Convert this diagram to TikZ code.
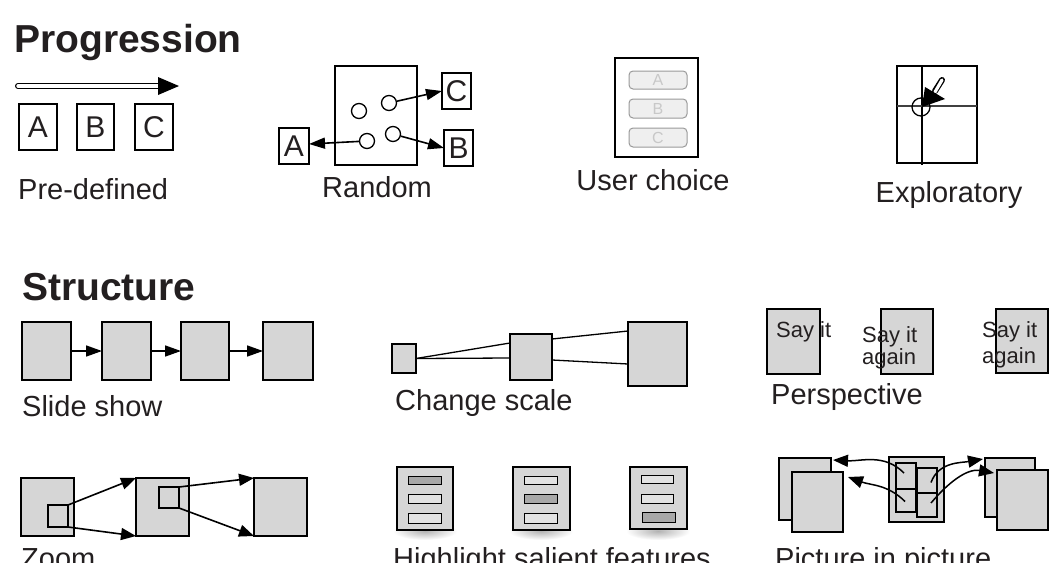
\documentclass[tikz,border=0pt]{standalone}
\usepackage{fontspec}
\setmainfont{Liberation Sans}
\usetikzlibrary{arrows.meta,calc}
\definecolor{ink}{HTML}{231F20}
\definecolor{fillg}{HTML}{D6D6D6}
\definecolor{btnfill}{HTML}{EFEFEF}
\definecolor{btndraw}{HTML}{9A9A9A}
\definecolor{btntext}{HTML}{C8C8C8}
\definecolor{barlight}{HTML}{E2E2E2}
\definecolor{bardark}{HTML}{A8A8A8}
\tikzset{
 box/.style={draw=black, line width=1.5pt, fill=fillg, inner sep=0pt, outer sep=0pt, anchor=north west},
 frame/.style={draw=black, line width=1.6pt, inner sep=0pt, outer sep=0pt, anchor=north west},
 wbox/.style={draw=black, line width=1.3pt, fill=white, inner sep=0pt, outer sep=0pt, anchor=north west, font=\fontsize{30}{30}\selectfont, text=ink},
 dot/.style={circle, draw=black, line width=1.3pt, fill=white, minimum size=15pt, inner sep=0pt},
 btn/.style={draw=btndraw, line width=1pt, fill=btnfill, rounded corners=4pt, inner sep=0pt, outer sep=0pt, anchor=north west, text=btntext, font=\fontsize{16}{16}\selectfont, minimum width=58pt},
 bar/.style={draw=black, line width=1pt, fill=barlight, inner sep=0pt, anchor=north west},
 hibar/.style={bar, fill=bardark},
 ibox/.style={draw=black, line width=2pt, fill=fillg, inner sep=0pt, outer sep=0pt, anchor=north west},
 lbl/.style={font=\fontsize{29}{34}\selectfont, text=ink, inner sep=0pt, anchor=base west},
 clbl/.style={lbl, anchor=base},
 ptxt/.style={font=\fontsize{22}{22}\selectfont, text=ink, inner sep=0pt, anchor=base west},
 heading/.style={font=\fontsize{39}{44}\selectfont\bfseries, text=ink, inner sep=0pt, anchor=base west},
 arr/.style={line width=1.6pt, -{Triangle[length=16pt,width=11pt]}},
 zarr/.style={line width=1.6pt, -{Triangle[length=15pt,width=12pt]}},
 carr/.style={line width=1.5pt, -{Triangle[length=15pt,width=12pt]}},
 thin/.style={line width=1.3pt},
}
\begin{document}
\begin{tikzpicture}[x=1pt,y=-1pt]
\clip (0,0) rectangle (1059,562);
\fill[white] (0,0) rectangle (1059,562);

% ---------- Progression ----------
\node[heading] (ptitle) at (14,52) {Progression};

% Pre-defined
\coordinate (pdS) at (18,86);
\coordinate (pdE) at (158,86);
\draw[line width=6pt, line cap=round] (pdS) -- (pdE);
\draw[line width=3.4pt, white, line cap=round] (pdS) -- ([xshift=2pt]pdE);
\fill ($(pdE)+(0,-9)$) -- ($(pdE)+(21,0)$) -- ($(pdE)+(0,9)$) -- cycle;
\node[wbox, minimum width=38pt, minimum height=46pt] (pA) at (19,104) {A};
\node[wbox, minimum width=37pt, minimum height=46pt] (pB) at (77,104) {B};
\node[wbox, minimum width=38pt, minimum height=46pt] (pC) at (135,104) {C};
\node[lbl] (pdl) at (18,199) {Pre-defined};

% Random
\node[frame, minimum width=82pt, minimum height=99pt] (rbox) at (335,66) {};
\node[dot] (c1) at (359,111) {};
\node[dot] (c2) at (389,103) {};
\node[dot] (c3) at (367,141) {};
\node[dot] (c4) at (393,134) {};
\node[wbox, minimum width=30pt, minimum height=36pt] (rA) at (279,128) {A};
\node[wbox, minimum width=29pt, minimum height=36pt] (rC) at (442,73) {C};
\node[wbox, minimum width=29pt, minimum height=36pt] (rB) at (444,130) {B};
\draw[arr] (c3) -- ($(rA.east)+(0,-2)$);
\draw[arr] (c2) -- (rC.west);
\draw[arr] (c4) -- (rB.west);
\node[clbl] (rl) at (377,197) {Random};

% User choice
\node[frame, minimum width=83pt, minimum height=99pt] (ubox) at (615,58) {};
\node[btn, minimum height=18pt] (ua) at (629,71) {A};
\node[btn, minimum height=19pt] (ub) at (629,99) {B};
\node[btn, minimum height=19pt] (uc) at (629,128) {C};
\node[clbl] (ul) at (653,190) {User choice};

% Exploratory
\node[frame, minimum width=80pt, minimum height=97pt] (ebox) at (897,66) {};
\draw[line width=1.2pt] (922,66) -- (922,165);
\draw[line width=1.3pt, black!75] (897,106) -- (977,106);
\node[circle, draw=black, line width=1.3pt, minimum size=18pt, inner sep=0pt] (ec) at (921,107) {};
\draw[line width=6pt, line cap=round] (942,80) -- (935,91);
\draw[line width=3.2pt, white, line cap=round] (942,80) -- (935,92);
\fill (925,87) -- (945,99) -- (922,107) -- cycle;
\node[clbl] (el) at (949,202) {Exploratory};

% ---------- Structure ----------
\node[heading] (stitle) at (22,300) {Structure};

% Slide show
\node[box, minimum width=49pt, minimum height=58pt] (s1) at (22,322) {};
\node[box, minimum width=49pt, minimum height=58pt] (s2) at (102,322) {};
\node[box, minimum width=48pt, minimum height=58pt] (s3) at (181,322) {};
\node[box, minimum width=50pt, minimum height=58pt] (s4) at (263,322) {};
\draw[arr] (s1.east) -- (s2.west);
\draw[arr] (s2.east) -- (s3.west);
\draw[arr] (s3.east) -- (s4.west);
\node[lbl] (sl) at (22,416) {Slide show};

% Change scale
\node[box, minimum width=24pt, minimum height=29pt] (cs1) at (392,344) {};
\node[box, minimum width=42pt, minimum height=46pt] (cs2) at (510,334) {};
\node[box, minimum width=59pt, minimum height=64pt] (cs3) at (628,322) {};
\draw[thin] (cs1.east) -- ($(cs2.north west)+(0,9)$);
\draw[thin] (cs1.east) -- ($(cs2.north west)+(0,24)$);
\draw[thin] ($(cs2.north east)+(0,5)$) -- ($(cs3.north west)+(0,9)$);
\draw[thin] ($(cs2.north east)+(0,26)$) -- ($(cs3.north west)+(0,42)$);
\node[lbl] (csl) at (395,410) {Change scale};

% Perspective
\node[box, minimum width=53pt, minimum height=65pt] (p1) at (767,309) {};
\node[box, minimum width=52pt, minimum height=65pt] (p2) at (881,309) {};
\node[box, minimum width=52pt, minimum height=64pt] (p3) at (996,309) {};
\node[ptxt] (p1a) at (776,337) {Say it};
\node[ptxt] (p2a) at (862,342) {Say it};
\node[ptxt] (p2b) at (862,364) {again};
\node[ptxt] (p3a) at (982,337) {Say it};
\node[ptxt] (p3b) at (982,363) {again};
\node[lbl] (pl) at (771,404) {Perspective};

% Zoom
\node[box, minimum width=53pt, minimum height=58pt] (z1) at (21,478) {};
\node[frame, minimum width=20pt, minimum height=22pt] (z1i) at (48,505) {};
\node[box, minimum width=53pt, minimum height=58pt] (z2) at (136,478) {};
\node[frame, minimum width=20pt, minimum height=21pt] (z2i) at (159,487) {};
\node[box, minimum width=53pt, minimum height=58pt] (z3) at (254,478) {};
\draw[zarr] (z1i.north east) -- (z2.north west);
\draw[zarr] (z1i.south east) -- (z2.south west);
\draw[zarr] (z2i.north east) -- (z3.north west);
\draw[zarr] (z2i.south east) -- (z3.south west);
\node[lbl] (zl) at (21,568) {Zoom};

% Highlight salient features
\foreach \cx in {425,541,658}{
  \shade[inner color=black!30, outer color=white] (\cx,531) ellipse [x radius=32, y radius=9];
}
\node[box, minimum width=56pt, minimum height=63pt] (h1) at (397,467) {};
\node[box, minimum width=57pt, minimum height=63pt] (h2) at (513,467) {};
\node[box, minimum width=57pt, minimum height=62pt] (h3) at (630,467) {};
\node[hibar, minimum width=33pt, minimum height=8pt] (h1a) at (408,476) {};
\node[bar, minimum width=33pt, minimum height=9pt] (h1b) at (408,494) {};
\node[bar, minimum width=33pt, minimum height=10pt] (h1c) at (408,513) {};
\node[bar, minimum width=33pt, minimum height=8pt] (h2a) at (524,476) {};
\node[hibar, minimum width=33pt, minimum height=9pt] (h2b) at (524,494) {};
\node[bar, minimum width=33pt, minimum height=10pt] (h2c) at (524,513) {};
\node[bar, minimum width=32pt, minimum height=8pt] (h3a) at (641,475) {};
\node[bar, minimum width=32pt, minimum height=9pt] (h3b) at (641,494) {};
\node[hibar, minimum width=33pt, minimum height=10pt] (h3c) at (642,512) {};
\node[lbl] (hl) at (393,568) {Highlight salient features};

% Picture in picture
\node[box, minimum width=52pt, minimum height=62pt] (pl1) at (779,458) {};
\node[box, minimum width=51pt, minimum height=60pt] (pl2) at (792,472) {};
\node[box, minimum width=55pt, minimum height=65pt] (pm) at (889,457) {};
\node[ibox, minimum width=20pt, minimum height=26pt] (pmTL) at (896,463) {};
\node[ibox, minimum width=20pt, minimum height=23pt] (pmBL) at (896,489) {};
\node[ibox, minimum width=20pt, minimum height=25pt] (pmTR) at (917,468) {};
\node[ibox, minimum width=20pt, minimum height=24pt] (pmBR) at (917,493) {};
\node[box, minimum width=50pt, minimum height=59pt] (pr1) at (985,458) {};
\node[box, minimum width=51pt, minimum height=60pt] (pr2) at (997,470) {};
\draw[carr] ($(pmTL.center)+(-2,-3)$) to[out=135, in=-3] ($(pl1.north east)+(2,2)$);
\draw[carr] ($(pmBL.center)+(-1,1)$) to[out=135, in=-20] ($(pl2.north east)+(5,5)$);
\draw[carr] ($(pmTR.center)+(4,2)$) to[out=70, in=190] ($(pr1.north west)+(-2,1)$);
\draw[carr] ($(pmBR.center)+(4,-2)$) to[out=50, in=170] ($(pr2.north west)+(-3,3)$);
\node[lbl] (pipl) at (775,568) {Picture in picture};
\end{tikzpicture}
\end{document}
